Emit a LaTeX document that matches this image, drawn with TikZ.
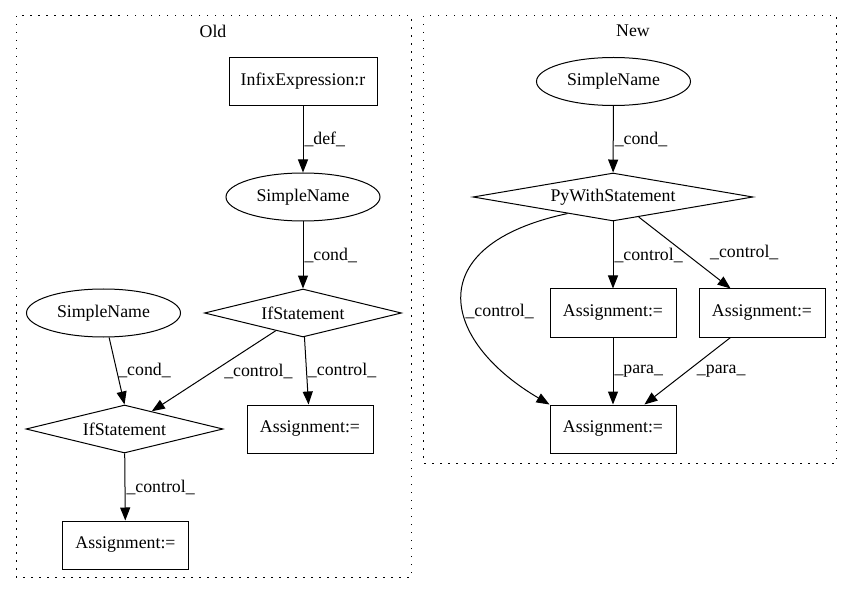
\documentclass[tikz,border=0pt]{standalone}
\usepackage{fontspec}
\setmainfont{Liberation Serif}
\usetikzlibrary{arrows.meta, shapes.geometric}

\begin{document}
\begin{tikzpicture}[x=1pt, y=-1pt,
	font=\fontsize{17.8}{20}\selectfont,
	every node/.style={inner sep=0pt},
	cluster/.style={line width=1pt, dash pattern=on 1.5pt off 6.5pt},
	box/.style={draw, line width=1pt, minimum width=126pt, minimum height=48pt},
	ellip/.style={draw, ellipse, line width=1pt, minimum width=154pt, minimum height=48pt},
	decision/.style={draw, diamond, line width=1pt, shape aspect=4, minimum height=48pt},
	edge/.style={line width=1pt, -{Triangle[length=13pt, width=10pt]}},
	lbl/.style={right, inner sep=1pt}]
	\useasboundingbox (0,0) rectangle (852,596);
	
	% clusters
	\draw [cluster] (16,16) rectangle (411,577);
	\draw [cluster] (423,16) rectangle (836,463);
	\node (oldlbl) at (213,31) {Old};
	\node (newlbl) at (633,31) {New};
	
	% old version
	\node [box, minimum width=148pt] (infix) at (303,81.5) {InfixExpression:r};
	\node [ellip] (sn1) at (303,197) {SimpleName};
	\node [decision, minimum width=197pt] (if1) at (303,313) {IfStatement};
	\node [ellip] (sn2) at (103.5,313) {SimpleName};
	\node [decision, minimum width=197pt] (if2) at (124.5,429) {IfStatement};
	\node [box] (as1) at (310,429) {Assignment:=};
	\node [box] (as2) at (125.5,545) {Assignment:=};
	
	% new version
	\node [ellip] (sn3) at (613.5,81.5) {SimpleName};
	\node [decision, minimum width=280pt] (pws) at (613,197) {PyWithStatement};
	\node [box] (an1) at (613,313) {Assignment:=};
	\node [box] (an2) at (762,313) {Assignment:=};
	\node [box] (an3) at (613,429) {Assignment:=};
	
	% old edges
	\draw [edge] (infix) -- node [lbl] {\_def\_} (sn1);
	\draw [edge] (sn1) -- node [lbl] {\_cond\_} (if1);
	\draw [edge] (sn2) -- node [lbl] {\_cond\_} (if2.north);
	\draw [edge] (if1) -- node [lbl, xshift=9pt] {\_control\_} (if2);
	\draw [edge] (if1) -- node [lbl] {\_control\_} (as1);
	\draw [edge] (if2) -- node [lbl] {\_control\_} (as2);
	
	% new edges
	\draw [edge] (sn3) -- node [lbl] {\_cond\_} (pws);
	\draw [edge] (pws) -- node [lbl] {\_control\_} (an1);
	\draw [edge] (pws) -- node [lbl, xshift=24pt] {\_control\_} (an2);
	\draw [edge] (pws.-160) .. controls (420,245) and (440,340) .. (an3.north west) node [lbl, pos=0.57] {\_control\_};
	\draw [edge] (an1) -- node [lbl] {\_para\_} (an3);
	\draw [edge] (an2) -- node [lbl, xshift=8pt] {\_para\_} (an3);
\end{tikzpicture}
\end{document}
